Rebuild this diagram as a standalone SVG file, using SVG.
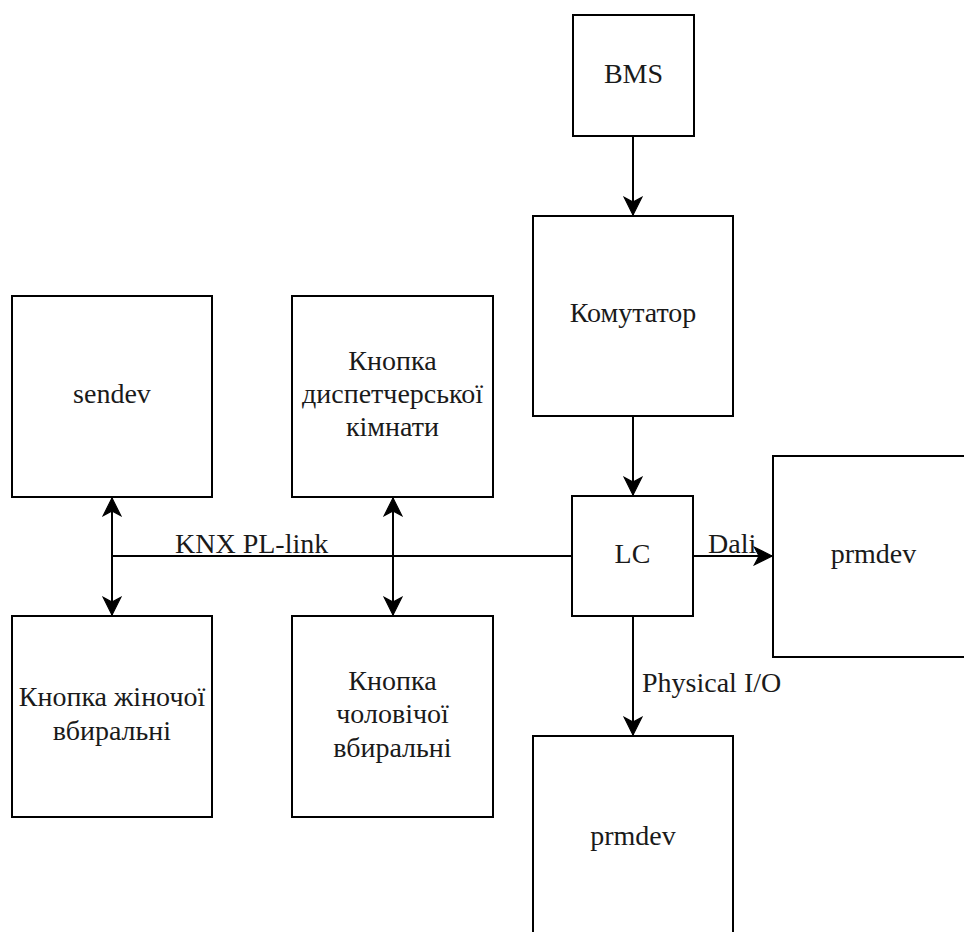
<svg xmlns="http://www.w3.org/2000/svg" width="964" height="932" viewBox="0 0 964 932">
  <style>
    .box { fill: #ffffff; stroke: #000000; stroke-width: 2; }
    text { font-family: 'Liberation Serif', 'DejaVu Serif', serif; font-size: 28px; fill: #1a1a1a; }
    .lbl { text-anchor: middle; }
    .wire { fill: none; stroke: #000000; stroke-width: 2; }
  </style>
  <defs>
    <marker id="arrow" markerUnits="userSpaceOnUse" markerWidth="20" markerHeight="20" viewBox="-16 -8 17 16" refX="0" refY="0" orient="auto-start-reverse">
      <path d="M0,0 L-15,-7.5 L-11,0 L-15,7.5 Z" fill="#000000" stroke="#000000" stroke-width="1"/>
    </marker>
  </defs>
  <rect width="964" height="932" fill="#ffffff"/>

  <!-- nodes -->
  <g id="bms">
    <rect class="box" x="573" y="15" width="121" height="121"/>
    <text class="lbl" x="633.5" y="83" font-family="Liberation Serif, serif">BMS</text>
  </g>
  <g id="switch">
    <rect class="box" x="533" y="216" width="200" height="200"/>
    <text class="lbl" x="633" y="322">Комутатор</text>
  </g>
  <g id="lc">
    <rect class="box" x="572" y="496" width="121" height="120"/>
    <text class="lbl" x="632.5" y="563">LC</text>
  </g>
  <g id="prmdev-right">
    <rect class="box" x="773" y="456" width="201" height="201"/>
    <text class="lbl" x="873.5" y="563">prmdev</text>
  </g>
  <g id="prmdev-bottom">
    <rect class="box" x="533" y="736" width="200" height="210"/>
    <text class="lbl" x="633" y="845">prmdev</text>
  </g>
  <g id="sendev">
    <rect class="box" x="12" y="296" width="200" height="201"/>
    <text class="lbl" x="112" y="403">sendev</text>
  </g>
  <g id="dispatch-button">
    <rect class="box" x="292" y="296" width="201" height="201"/>
    <text class="lbl" x="392.5" y="370">Кнопка</text>
    <text class="lbl" x="392.5" y="403">диспетчерської</text>
    <text class="lbl" x="392.5" y="436">кімнати</text>
  </g>
  <g id="women-button">
    <rect class="box" x="12" y="616" width="200" height="201"/>
    <text class="lbl" x="112" y="706">Кнопка жіночої</text>
    <text class="lbl" x="112" y="740">вбиральні</text>
  </g>
  <g id="men-button">
    <rect class="box" x="292" y="616" width="201" height="201"/>
    <text class="lbl" x="392.5" y="690">Кнопка</text>
    <text class="lbl" x="392.5" y="723">чоловічої</text>
    <text class="lbl" x="392.5" y="757">вбиральні</text>
  </g>

  <!-- connectors -->
  <g id="connectors">
    <line class="wire" x1="633" y1="136" x2="633" y2="215" marker-end="url(#arrow)"/>
    <line class="wire" x1="633" y1="416" x2="633" y2="495" marker-end="url(#arrow)"/>
    <line class="wire" x1="693" y1="556" x2="772" y2="556" marker-end="url(#arrow)"/>
    <line class="wire" x1="633" y1="616" x2="633" y2="735" marker-end="url(#arrow)"/>
    <line class="wire" x1="112" y1="556" x2="572" y2="556"/>
    <line class="wire" x1="112" y1="498" x2="112" y2="615" marker-start="url(#arrow)" marker-end="url(#arrow)"/>
    <line class="wire" x1="393" y1="498" x2="393" y2="615" marker-start="url(#arrow)" marker-end="url(#arrow)"/>
    <text x="175" y="553">KNX PL-link</text>
    <text x="708" y="553">Dali</text>
    <text x="642" y="692">Physical I/O</text>
  </g>
</svg>
